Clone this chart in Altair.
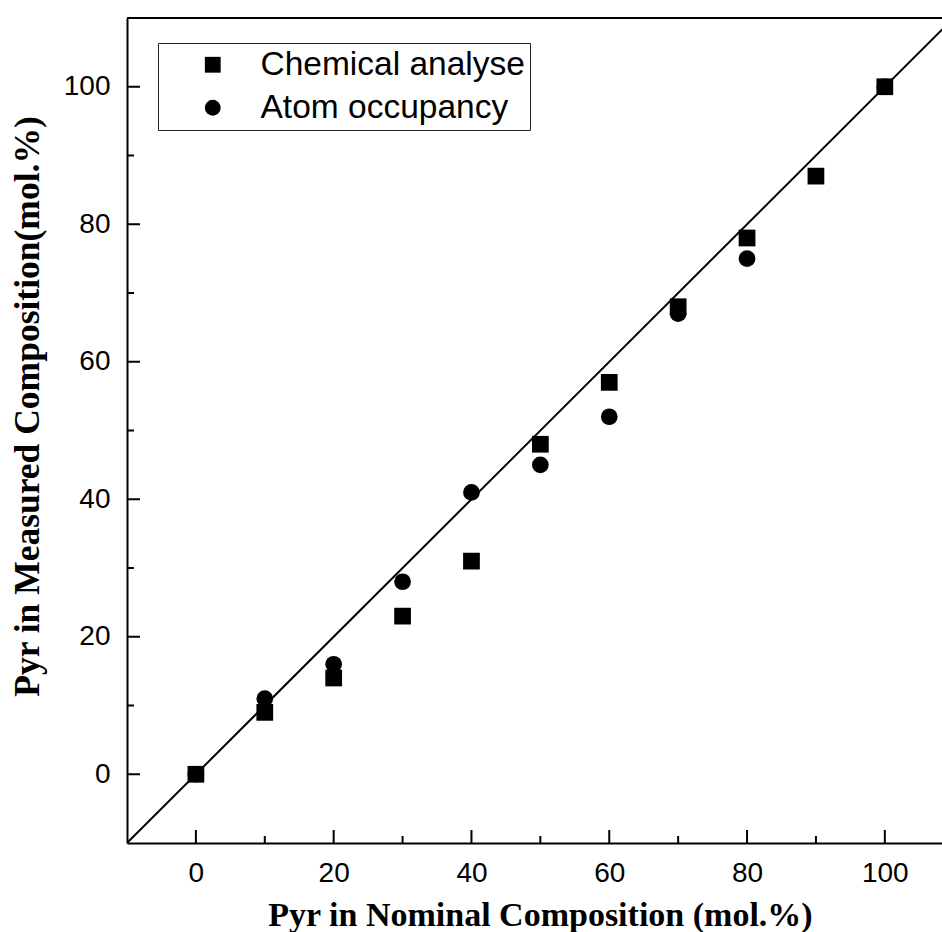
import altair as alt
import pandas as pd

# Nominal Pyr content (mol.%) and the two measured series
nominal_chem = [0, 10, 20, 30, 40, 50, 60, 70, 80, 90, 100]
chemical_analyse = [0, 9, 14, 23, 31, 48, 57, 68, 78, 87, 100]

nominal_atom = [0, 10, 20, 30, 40, 50, 60, 70, 80, 100]
atom_occupancy = [0, 11, 16, 28, 41, 45, 52, 67, 75, 100]

# y = x reference line end points
ref_x = [-10, 110]

# Axis tick positions
major_ticks = [0, 20, 40, 60, 80, 100]
minor_ticks = [10, 30, 50, 70, 90]

series_names = ["Chemical analyse", "Atom occupancy"]

W, H = 815, 825
X_DOMAIN = [-10, 108.3]
Y_DOMAIN = [-10, 110]

points = pd.concat([
    pd.DataFrame({"nominal": nominal_chem, "measured": chemical_analyse,
                  "series": series_names[0]}),
    pd.DataFrame({"nominal": nominal_atom, "measured": atom_occupancy,
                  "series": series_names[1]}),
])
ref = pd.DataFrame({"nominal": ref_x, "measured": ref_x})

xs = alt.Scale(domain=X_DOMAIN, nice=False, zero=False)
ys = alt.Scale(domain=Y_DOMAIN, nice=False, zero=False)

SANS = "Liberation Sans"
SERIF = "Liberation Serif"

x_axis = alt.Axis(
    values=major_ticks, ticks=False, grid=False,
    domainColor="black", domainWidth=2,
    labelFont=SANS, labelFontSize=28, labelColor="black", labelPadding=16,
    title="Pyr in Nominal Composition (mol.%)",
    titleFont=SERIF, titleFontSize=34, titleFontWeight="bold", titleColor="black",
    titleX=413, titleY=82, titleBaseline="alphabetic",
)
y_axis = alt.Axis(
    values=major_ticks, ticks=False, grid=False,
    domainColor="black", domainWidth=2,
    labelFont=SANS, labelFontSize=28, labelColor="black", labelPadding=17,
    title="Pyr in Measured Composition(mol.%)",
    titleFont=SERIF, titleFontSize=35.5, titleFontWeight="bold", titleColor="black",
    titleX=-89, titleY=388, titleBaseline="alphabetic",
)

X = alt.X("nominal:Q", scale=xs, axis=x_axis)
Y = alt.Y("measured:Q", scale=ys, axis=y_axis)

line = alt.Chart(ref).mark_line(color="black", strokeWidth=2, clip=True).encode(x=X, y=Y)

pts = alt.Chart(points).mark_point(filled=True, opacity=1, size=280, color="black").encode(
    x=X,
    y=Y,
    shape=alt.Shape(
        "series:N",
        scale=alt.Scale(domain=series_names, range=["square", "circle"]),
        legend=alt.Legend(
            orient="none", legendX=31, legendY=25, title=None,
            labelFont=SANS, labelFontSize=33.5, labelColor="black", labelLimit=600,
            symbolSize=250, symbolFillColor="black", symbolStrokeColor="black",
            symbolStrokeWidth=0, symbolOpacity=1,
            strokeColor="#222", fillColor="white", padding=5,
            rowPadding=8, symbolOffset=33, labelOffset=31,
        ),
    ),
)


# Inward ticks: bottom ticks rise from the lower domain edge, left ticks
# extend right from the left domain edge.
def x_ticks(values, length):
    df = pd.DataFrame({"nominal": values, "measured": Y_DOMAIN[0]})
    return alt.Chart(df).mark_rule(color="black", strokeWidth=2).encode(
        x=X, y=Y, y2=alt.value(H - length))


def y_ticks(values, length):
    df = pd.DataFrame({"nominal": X_DOMAIN[0], "measured": values})
    return alt.Chart(df).mark_rule(color="black", strokeWidth=2).encode(
        x=X, y=Y, x2=alt.value(length))


# top frame edge
top_edge = alt.Chart(pd.DataFrame({"nominal": X_DOMAIN, "measured": Y_DOMAIN[1]})).mark_line(
    color="black", strokeWidth=2).encode(x=X, y=Y)

chart = alt.layer(
    line,
    x_ticks(major_ticks, 13), x_ticks(minor_ticks, 7),
    y_ticks(major_ticks, 13), y_ticks(minor_ticks, 7),
    top_edge, pts,
).properties(
    width=W, height=H,
    autosize=alt.AutoSizeParams(type="none"),
    padding={"left": 127, "top": 18, "right": 0, "bottom": 89},
    background="white",
).configure_view(stroke=None)

chart.save("out.html", embed_options={"renderer": "svg", "actions": False})
